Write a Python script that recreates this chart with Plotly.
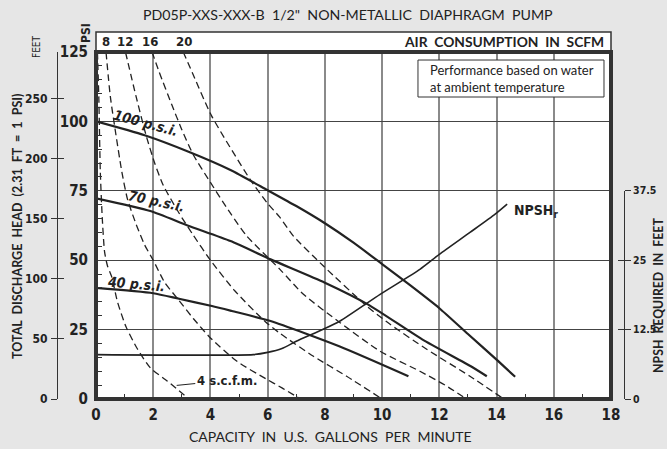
import plotly.graph_objects as go

# ---------------- data ----------------
gpm_ticks = [0, 2, 4, 6, 8, 10, 12, 14, 16, 18]
psi_ticks = [0, 25, 50, 75, 100, 125]
feet_ticks = [0, 50, 100, 150, 200, 250]
npsh_ticks = [0, 12.5, 25, 37.5]

# performance curves (psi)
p100_x = [0, 1.7, 3.3, 4.7, 6.0, 7.0, 8.0, 9.0, 10.0, 11.0, 12.0, 13.0, 14.0, 14.65]
p100_y = [100, 95, 88.8, 82.5, 75.2, 69.5, 63.3, 56.3, 48.6, 40.8, 32.7, 23.4, 14.2, 8.0]
p70_x = [0, 1.9, 3.2, 4.7, 6.1, 8.0, 9.5, 11.4, 13.1, 13.66]
p70_y = [72.3, 67.7, 62.5, 56.9, 50.3, 41.9, 34.1, 21.5, 11.8, 8.2]
p40_x = [0, 2.0, 2.9, 4.05, 4.75, 6.1, 8.5, 10.92]
p40_y = [40, 38.1, 36.1, 33.5, 31.7, 28.1, 19.0, 8.2]

# air consumption curves (psi)
a4_x = [0.05, 0.1, 0.15, 0.22, 0.3, 0.4, 0.55, 0.75, 1.05, 1.45, 1.9, 2.5, 3.25]
a4_y = [125, 108, 82, 65, 53, 48, 44, 35, 26, 18, 11.2, 6.4, 0]
a8_x = [0.35, 0.5, 0.67, 0.9, 1.1, 1.4, 1.7, 2.0, 2.4, 2.9, 3.4, 4.0, 4.95, 5.95, 6.5, 7.15]
a8_y = [125, 109, 97, 82, 72, 63, 55.5, 50, 42, 35.5, 29, 22, 13.4, 7.2, 4.0, 0]
a12_x = [1.03, 1.4, 1.75, 2.05, 2.35, 2.9, 3.4, 4.0, 4.85, 5.9, 6.45, 7.6, 8.76, 10.0]
a12_y = [125, 109, 95, 85, 77, 67, 59, 50, 39, 28, 23.5, 15.4, 8.2, 0]
a16_x = [1.96, 2.2, 2.65, 3.0, 3.4, 4.0, 4.68, 5.27, 6.43, 7.25, 8.53, 9.93, 11.32, 12.2, 12.95]
a16_y = [125, 118, 106, 97, 88, 78, 67.2, 58.7, 46.7, 37.7, 27.5, 17.2, 10, 5, 0]
a20_x = [3.05, 3.36, 4.04, 5.38, 5.97, 6.43, 6.9, 7.95, 9.46, 10.28, 11.56, 13.07, 14.25]
a20_y = [125, 117.7, 102, 79.2, 70.8, 65.4, 58.7, 47.9, 33.5, 26.9, 17.9, 8.2, 0]
air_labels = ["8", "12", "16", "20"]
air_label_x = [0.35, 1.01, 1.89, 3.08]

# NPSH required (feet)
npsh_x = [0, 5.5, 6.0, 6.5, 7.0, 7.94, 8.53, 9.93, 11.32, 12.0, 13.07, 13.94, 14.37]
npsh_y = [8, 8, 8.4, 9.1, 10.4, 12.55, 14.05, 18.85, 23.35, 26.05, 30.0, 33.25, 35.1]

# ---------------- styling ----------------
COND = "Liberation Sans Narrow, Arial Narrow, DejaVu Sans Condensed, sans-serif"
GILL = "Lato, Open Sans, sans-serif"
INK = "#222222"
W, H = 667, 449
S2 = "\u00a0\u00a0"

def spaced(words, gap=S2):
    return gap.join(words)

fig = go.Figure()

def add_curve(x, y, width, dash=None, yaxis="y"):
    fig.add_trace(go.Scatter(
        x=x, y=y, mode="lines", yaxis=yaxis, showlegend=False, hoverinfo="skip",
        line=dict(color=INK, width=width, dash=dash, shape="spline", smoothing=0.6)))

for ax_, ay_ in [(a4_x, a4_y), (a8_x, a8_y), (a12_x, a12_y), (a16_x, a16_y), (a20_x, a20_y)]:
    add_curve(ax_, ay_, 1.3, dash="7px,4px")
for px_, py_ in [(p100_x, p100_y), (p70_x, p70_y), (p40_x, p40_y)]:
    add_curve(px_, py_, 2.2)
# NPSH on a hidden overlay axis scaled so 12.5 ft == 25 psi
add_curve(npsh_x, npsh_y, 1.6, yaxis="y2")

minor_x = [v for v in range(1, 18, 2)]
minor_y = [v for v in range(5, 125, 5) if v % 25 != 0]

XDOM = [96 / W, 611 / W]
FEET_POS = 57 / W
NPSH_POS = 624 / W

feet_tick_font = dict(family=COND, size=12, color=INK, weight="bold")
npsh_tick_font = dict(family=COND, size=10.5, color=INK, weight="bold")

fig.update_layout(
    width=W, height=H,
    margin=dict(l=0, r=0, t=52, b=50),
    paper_bgcolor="#e6e6e6", plot_bgcolor="rgba(0,0,0,0)",
    xaxis=dict(domain=XDOM, range=[0, 18], tickvals=gpm_ticks, showgrid=True,
               gridcolor="#8a8a8a", gridwidth=1.5, zeroline=False, showline=False,
               ticks="", ticklabelstandoff=5, automargin=False,
               tickfont=dict(family=COND, size=15, color=INK, weight="bold"),
               minor=dict(tickvals=minor_x, ticks="inside", ticklen=5, tickcolor="#333",
                          tickwidth=1.2, showgrid=False)),
    yaxis=dict(range=[0, 125], tickvals=psi_ticks, showgrid=True, gridcolor="#444444",
               gridwidth=1.2, zeroline=False, showline=False, ticks="",
               ticklabelstandoff=7, automargin=False,
               tickfont=dict(family=COND, size=15, color=INK, weight="bold"),
               minor=dict(tickvals=minor_y, ticks="inside", ticklen=6, tickcolor="#333",
                          tickwidth=1.2, showgrid=False)),
    yaxis2=dict(range=[0, 62.5], overlaying="y", visible=False),
    yaxis3=dict(range=[0, 125 * 2.31], anchor="free", position=FEET_POS, side="left",
                overlaying="y", tickvals=feet_ticks, automargin=False,
                showgrid=False, zeroline=False, showline=True, linecolor="#333",
                linewidth=1, ticks="outside", ticklen=6, tickcolor="#333",
                ticklabelstandoff=1, tickfont=feet_tick_font),
    yaxis5=dict(range=[0, 125 * 2.31], anchor="free", position=FEET_POS, side="left",
                overlaying="y", tickvals=feet_ticks + [125 * 2.31], showgrid=False,
                zeroline=False, showline=False, ticks="inside", ticklen=6,
                tickcolor="#333", showticklabels=False, automargin=False),
    xaxis2=dict(domain=XDOM, range=[0, 18], anchor="y4", visible=False),
    yaxis4=dict(range=[0, 37.5], domain=[0, 0.6], anchor="free", position=NPSH_POS,
                side="right", tickvals=npsh_ticks, ticktext=["0", "12.5", "25", "37.5"],
                showgrid=False, zeroline=False, showline=True, linecolor="#333",
                linewidth=1, ticks="outside", ticklen=6, tickcolor="#333",
                ticklabelstandoff=0, tickfont=npsh_tick_font, automargin=False),
    yaxis6=dict(range=[0, 37.5], anchor="free", position=NPSH_POS, side="right",
                overlaying="y4", tickvals=npsh_ticks, showgrid=False, zeroline=False,
                showline=False, ticks="inside", ticklen=6, tickcolor="#333",
                showticklabels=False, automargin=False),
)

# empty traces so the extra scale axes render
fig.add_trace(go.Scatter(x=[None], y=[None], yaxis="y3", showlegend=False, hoverinfo="skip"))
fig.add_trace(go.Scatter(x=[None], y=[None], yaxis="y5", showlegend=False, hoverinfo="skip"))
fig.add_trace(go.Scatter(x=[None], y=[None], xaxis="x2", yaxis="y4", showlegend=False,
                         hoverinfo="skip"))
fig.add_trace(go.Scatter(x=[None], y=[None], xaxis="x2", yaxis="y6", showlegend=False,
                         hoverinfo="skip"))

XD, YD = "x domain", "y domain"
# white plot background beneath the grid
fig.add_shape(type="rect", xref=XD, yref=YD, x0=0, x1=1, y0=0, y1=1,
              fillcolor="white", line=dict(width=0), layer="below")
# top strip box and thick frame
fig.add_shape(type="rect", xref=XD, yref=YD, x0=0, x1=1, y0=1, y1=1.0576,
              fillcolor="white", line=dict(color="#333", width=1.5), layer="above")
fig.add_shape(type="rect", xref=XD, yref=YD, x0=0, x1=1, y0=0, y1=1,
              line=dict(color="#333", width=4), layer="above")
# note box
fig.add_shape(type="rect", xref=XD, yref=YD, x0=0.6252, x1=0.9864,
              y0=0.8703, y1=0.9769, fillcolor="white",
              line=dict(color="#333", width=1), layer="above")

C = dict(xanchor="center", yanchor="middle", showarrow=False)
ann = []
ann.append(dict(text="Performance based on water<br>at ambient temperature", xref=XD,
                yref=YD, x=0.644, y=0.9236, xanchor="left", yanchor="middle",
                align="left", showarrow=False,
                font=dict(family=GILL, size=13, color=INK)))
ann.append(dict(text=spaced(["PD05P-XXS-XXX-B", "1/2\"", "NON-METALLIC", "DIAPHRAGM",
                             "PUMP"]),
                xref=XD, yref=YD, x=0.4884, y=1.1095, **C,
                font=dict(family=GILL, size=14.2, color=INK)))
ann.append(dict(text=spaced(["AIR", "CONSUMPTION", "IN", "SCFM"]), xref=XD, yref=YD,
                x=0.990, y=1.029, xanchor="right", yanchor="middle", showarrow=False,
                font=dict(family=GILL, size=13.8, color=INK, weight="bold")))
for lab, lx in zip(air_labels, air_label_x):
    ann.append(dict(text=lab, xref="x", yref=YD, x=lx, y=1.029, **C,
                    font=dict(family=COND, size=13, color=INK, weight="bold")))
ann.append(dict(text="PSI", xref=XD, yref=YD, x=-0.0194, y=1.0548, textangle=-90, **C,
                font=dict(family=COND, size=12, color=INK, weight="bold")))
ann.append(dict(text="FEET", xref=XD, yref=YD, x=-0.1165, y=1.0144, textangle=-90, **C,
                font=dict(family=COND, size=10, color=INK)))
ann.append(dict(text=spaced(["TOTAL", "DISCHARGE", "HEAD", "(2.31", "FT", "=", "1",
                             "PSI)"]),
                xref=XD, yref=YD, x=-0.1515, y=0.4986, textangle=-90, **C,
                font=dict(family=GILL, size=12.5, color=INK, weight="bold")))
ann.append(dict(text=spaced(["NPSH", "REQUIRED", "IN", "FEET"]), xref=XD, yref=YD,
                x=1.0932, y=0.30, textangle=-90, **C,
                font=dict(family=GILL, size=12.3, color=INK, weight="bold")))
ann.append(dict(text=spaced(["CAPACITY", "IN", "U.S.", "GALLONS", "PER", "MINUTE"]),
                xref=XD, yref=YD, x=0.4544, y=-0.1095, **C,
                font=dict(family=GILL, size=14, color=INK)))
# curve labels
ann.append(dict(text="<i>100 p.s.i.</i>", x=1.75, y=99.4, textangle=15, **C,
                font=dict(family=COND, size=14, color=INK, weight="bold")))
ann.append(dict(text="<i>70 p.s.i.</i>", x=2.1, y=71.4, textangle=12, **C,
                font=dict(family=COND, size=14, color=INK, weight="bold")))
ann.append(dict(text="<i>40 p.s.i.</i>", x=1.43, y=41.6, textangle=5, **C,
                font=dict(family=COND, size=14, color=INK, weight="bold")))
ann.append(dict(text="4 s.c.f.m.", x=2.82, y=4.9, ax=4.57, ay=6.7, axref="x", ayref="y",
                showarrow=True, arrowhead=0, arrowwidth=1, arrowcolor=INK, standoff=0,
                font=dict(family=COND, size=13, color=INK, weight="bold")))
ann.append(dict(text="NPSH<sub>r</sub>", x=14.54, y=67.6, xanchor="left",
                yanchor="middle", showarrow=False,
                font=dict(family=COND, size=14, color=INK, weight="bold")))
fig.update_layout(annotations=ann)

fig.write_html("out.html", config={"displayModeBar": False},
               post_script="document.body.style.margin='0';"
                           "document.body.style.background='#e6e6e6';")
